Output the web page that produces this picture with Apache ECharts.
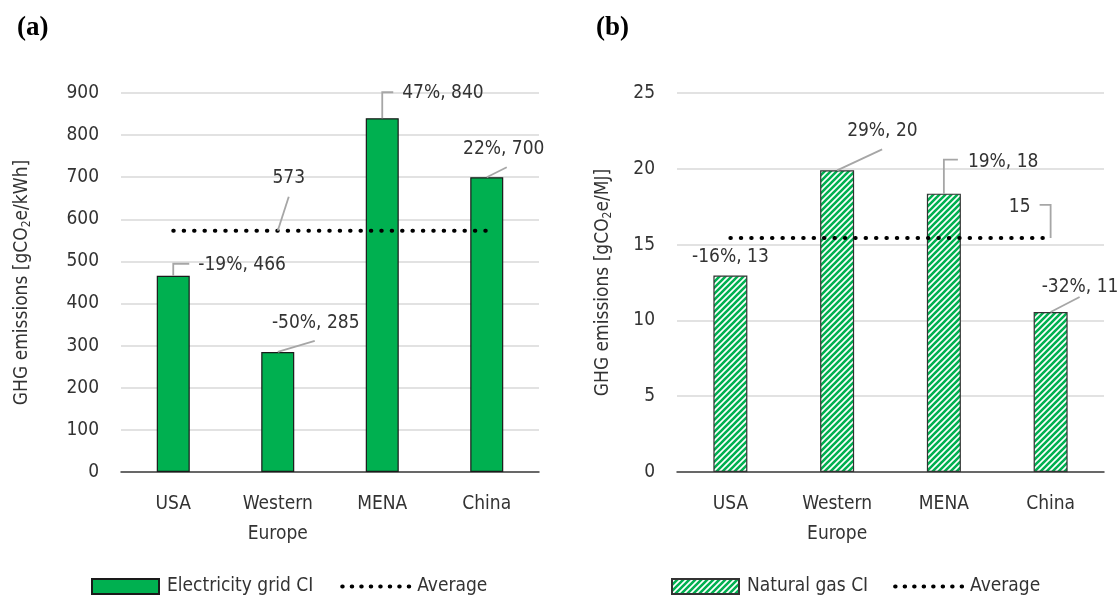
<!DOCTYPE html>
<html>
<head>
<meta charset="utf-8">
<script src="https://cdn.jsdelivr.net/npm/echarts@6/dist/echarts.min.js"></script>
<style>
html,body{margin:0;padding:0;background:#fff;}
#chart{width:1117px;height:596px;}
</style>
</head>
<body>
<div id="chart"></div>
<script>
// ---------- data ----------
const categories = ['USA', 'Western\nEurope', 'MENA', 'China'];
const elecCI = [466, 285, 840, 700];
const elecAvg = 572.75;
const elecLabels = ['-19%, 466', '-50%, 285', '47%, 840', '22%, 700'];
const elecAvgLabel = '573';
const gasCI = [12.96, 19.9, 18.36, 10.55];
const gasAvg = 15.44;
const gasLabels = ['-16%, 13', '29%, 20', '19%, 18', '-32%, 11'];
const gasAvgLabel = '15';
const elecTicks = {min: 0, max: 900, interval: 100};
const gasTicks = {min: 0, max: 25, interval: 5};

// ---------- styles ----------
const FONT = "'DejaVu Sans Condensed','Liberation Sans Narrow',sans-serif";
const FS = 19;
const TXT = '#333333';
const GREEN = '#00b050';

// leader-line / label geometry relative to the anchored point (style only)
const elecGeom = [
  {path: [[0, 0], [0, -12], [16, -12]], tx: 25, ty: -11, align: 'left'},
  {path: [[0, 0], [37, -11]], tx: 38, ty: -29, align: 'center'},
  {path: [[0, 0], [0, -26], [11, -26]], tx: 20, ty: -25, align: 'left'},
  {path: [[0, 0], [20, -10]], tx: 17, ty: -28, align: 'center'},
  {path: [[0, 0], [11, -34]], tx: 11, ty: -53, align: 'center'}
];
const gasGeom = [
  {path: null, tx: 0, ty: -18, align: 'center'},
  {path: [[0, 0], [45, -21]], tx: 10, ty: -39, align: 'left'},
  {path: [[0, 0], [0, -34], [14, -34]], tx: 24, ty: -32, align: 'left'},
  {path: [[0, 0], [29, -15]], tx: -9, ty: -25, align: 'left'},
  {path: [[-11, -33], [0, -33], [0, 0]], tx: -31, ty: -31, align: 'center'}
];

// hatch pattern
function makeHatch() {
  const s = 6;
  const c = document.createElement('canvas');
  c.width = s; c.height = s;
  const ctx = c.getContext('2d');
  ctx.fillStyle = '#ffffff';
  ctx.fillRect(0, 0, s, s);
  ctx.strokeStyle = GREEN;
  ctx.lineWidth = 2.6;
  ctx.beginPath();
  ctx.moveTo(-s, s); ctx.lineTo(s, -s);
  ctx.moveTo(0, 2 * s); ctx.lineTo(2 * s, 0);
  ctx.moveTo(0, s); ctx.lineTo(s, 0);
  ctx.stroke();
  return c;
}
const hatch = {image: makeHatch(), repeat: 'repeat'};

function calloutRenderer(geom, labels) {
  return function (params, api) {
    const i = params.dataIndex;
    const p = api.coord([api.value(0), api.value(1)]);
    const g = geom[i];
    const children = [];
    if (g.path) {
      children.push({
        type: 'polyline',
        shape: {points: g.path.map(q => [p[0] + q[0], p[1] + q[1]])},
        style: {stroke: '#a6a6a6', lineWidth: 1.8, fill: null}
      });
    }
    children.push({
      type: 'text',
      x: p[0] + g.tx, y: p[1] + g.ty,
      style: {text: labels[i], fontSize: FS, fontFamily: FONT, fill: TXT,
              align: g.align, verticalAlign: 'middle'}
    });
    return {type: 'group', children: children};
  };
}

function yAxis(grid, ticks, nameRich, gap) {
  return {
    type: 'value', gridIndex: grid, min: ticks.min, max: ticks.max, interval: ticks.interval,
    name: nameRich, nameLocation: 'middle', nameGap: gap,
    nameTextStyle: {fontFamily: FONT, fontSize: 19, color: TXT,
      rich: {sub: {fontFamily: FONT, fontSize: 12, color: TXT, padding: [10, 0, 0, 0]}}},
    axisLine: {show: false}, axisTick: {show: false},
    axisLabel: {fontFamily: FONT, fontSize: FS, color: TXT, margin: 22},
    splitLine: {lineStyle: {color: '#d9d9d9', width: 1.5}}
  };
}
function xAxis(grid) {
  return {
    type: 'category', gridIndex: grid, data: categories,
    axisLine: {lineStyle: {color: '#404040', width: 1.5}},
    axisTick: {show: false},
    axisLabel: {fontFamily: FONT, fontSize: FS, color: TXT, margin: 17, lineHeight: 30, interval: 0}
  };
}
const avgLine = {color: '#000', width: 4, type: [0.5, 9.9], cap: 'round'};
const legendAvg = {name: 'Average', itemStyle: {opacity: 0},
  lineStyle: {color: '#000', width: 4, type: [0.5, 9], cap: 'round', opacity: 1}};

const chart = echarts.init(document.getElementById('chart'), null, {renderer: 'canvas'});
chart.setOption({
  animation: false,
  backgroundColor: '#ffffff',
  graphic: [
    {type: 'text', left: 17, top: 15, style: {text: '(a)', font: "bold 27px 'Liberation Serif', serif", fill: '#000'}},
    {type: 'text', left: 596, top: 15, style: {text: '(b)', font: "bold 27px 'Liberation Serif', serif", fill: '#000'}}
  ],
  grid: [
    {left: 121, width: 418, top: 93, bottom: 124},
    {left: 677, width: 427, top: 93, bottom: 124}
  ],
  xAxis: [xAxis(0), xAxis(1)],
  yAxis: [
    yAxis(0, elecTicks, 'GHG emissions [gCO{sub|2}e/kWh]', 88),
    yAxis(1, gasTicks, 'GHG emissions [gCO{sub|2}e/MJ]', 63)
  ],
  legend: [
    {left: 91, top: 577, padding: 0, itemWidth: 67, itemHeight: 15, itemGap: 27,
     textStyle: {fontFamily: FONT, fontSize: FS, color: TXT, padding: [0, 0, 0, 3]},
     data: [{name: 'Electricity grid CI', icon: 'rect'}, legendAvg]},
    {left: 671, top: 577, padding: 0, itemWidth: 67, itemHeight: 15, itemGap: 25,
     textStyle: {fontFamily: FONT, fontSize: FS, color: TXT, padding: [0, 0, 0, 3]},
     data: [{name: 'Natural gas CI', icon: 'rect'}, legendAvg]}
  ],
  series: [
    {name: 'Electricity grid CI', type: 'bar', xAxisIndex: 0, yAxisIndex: 0, data: elecCI,
     barWidth: 33, itemStyle: {color: GREEN, borderColor: '#1a1a1a', borderWidth: 1.2}},
    {name: 'Average', type: 'line', xAxisIndex: 0, yAxisIndex: 0,
     data: categories.map(() => elecAvg), showSymbol: false, symbol: 'none',
     itemStyle: {color: '#000'}, lineStyle: avgLine, z: 5},
    {name: 'Natural gas CI', type: 'bar', xAxisIndex: 1, yAxisIndex: 1, data: gasCI,
     barWidth: 34, itemStyle: {color: hatch, borderColor: '#333', borderWidth: 1.2}},
    {name: 'Average', type: 'line', xAxisIndex: 1, yAxisIndex: 1,
     data: categories.map(() => gasAvg), showSymbol: false, symbol: 'none',
     itemStyle: {color: '#000'}, lineStyle: avgLine, z: 5},
    {type: 'custom', xAxisIndex: 0, yAxisIndex: 0, silent: true, clip: false, z: 10,
     data: elecCI.map((v, i) => [i, v]).concat([[1, elecAvg]]),
     renderItem: calloutRenderer(elecGeom, elecLabels.concat([elecAvgLabel]))},
    {type: 'custom', xAxisIndex: 1, yAxisIndex: 1, silent: true, clip: false, z: 10,
     data: gasCI.map((v, i) => [i, v]).concat([[3, gasAvg]]),
     renderItem: calloutRenderer(gasGeom, gasLabels.concat([gasAvgLabel]))}
  ]
});
</script>
</body>
</html>
